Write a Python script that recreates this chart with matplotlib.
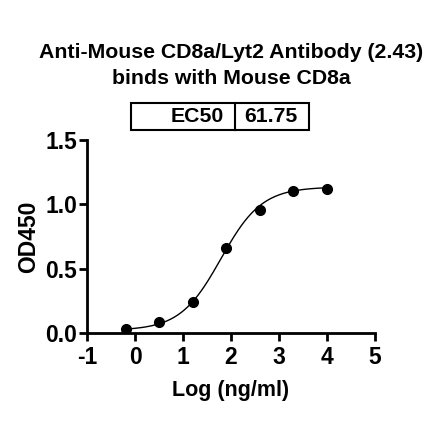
import matplotlib
matplotlib.use("Agg")
import matplotlib.pyplot as plt
import numpy as np

plt.rcParams['font.family'] = ['Liberation Sans', 'DejaVu Sans']
plt.rcParams['font.weight'] = 'bold'
plt.rcParams['axes.unicode_minus'] = False

# datos
log_conc = [-0.194, 0.505, 1.204, 1.903, 2.602, 3.301, 4.0]
od450 = [0.030, 0.083, 0.243, 0.658, 0.956, 1.107, 1.117]

# parametros del ajuste 4PL
ec50 = 61.75
bottom = 0.02
top = 1.135
hill = 1.02

xfit = np.linspace(min(log_conc), max(log_conc), 300)
yfit = bottom + (top - bottom) / (1 + 10 ** ((np.log10(ec50) - xfit) * hill))

fig = plt.figure(figsize=(4.4, 4.41), dpi=100)
ax = fig.add_axes([87/440, 1-333/441, (375-87)/440, (333-140)/441])

ax.plot(xfit, yfit, 'k-', lw=1.0)
ax.plot(log_conc, od450, 'ko', ms=7)

ax.set_xlim(-1, 5)
ax.set_ylim(0, 1.5)
ax.set_xticks(range(-1, 6))
ax.set_yticks([0.0, 0.5, 1.0, 1.5])
ax.set_yticklabels(["0.0", "0.5", "1.0", "1.5"])
for s in ['top', 'right']:
    ax.spines[s].set_visible(False)
for s in ['left', 'bottom']:
    ax.spines[s].set_linewidth(2)
ax.tick_params(width=2, length=6, labelsize=16.5)
ax.tick_params(axis='y', pad=1)
ax.tick_params(axis='x', pad=3)
for lab in ax.get_xticklabels() + ax.get_yticklabels():
    lab.set_fontweight('bold')

ax.set_xlabel("Log (ng/ml)", fontsize=15.5, fontweight='bold', labelpad=8.5)
ax.set_ylabel("OD450", fontsize=16.5, fontweight='bold', labelpad=4)

fig.text(231/440, 1-53/441, "Anti-Mouse CD8a/Lyt2 Antibody (2.43)", ha='center', va='center',
         fontsize=15.3, fontweight='bold')
fig.text(231/440, 1-79/441, "binds with Mouse CD8a", ha='center', va='center',
         fontsize=15.3, fontweight='bold')

# caja EC50
x0, x1, xm = 131/440, 309/440, 235/440
y0, y1 = 1-130/441, 1-103/441
fig.add_artist(plt.Rectangle((x0, y0), x1-x0, y1-y0, transform=fig.transFigure,
                             fill=False, lw=1.5, ec='k'))
fig.add_artist(plt.Line2D([xm, xm], [y0, y1], transform=fig.transFigure, lw=1.5, color='k'))
fig.text(xm - 11/440, (y0+y1)/2, "EC50", ha='right', va='center', fontsize=15.3, fontweight='bold')
fig.text(xm + 9/440, (y0+y1)/2, "%.2f" % ec50, ha='left', va='center', fontsize=15.3, fontweight='bold')

fig.savefig("out.png", dpi=100)
